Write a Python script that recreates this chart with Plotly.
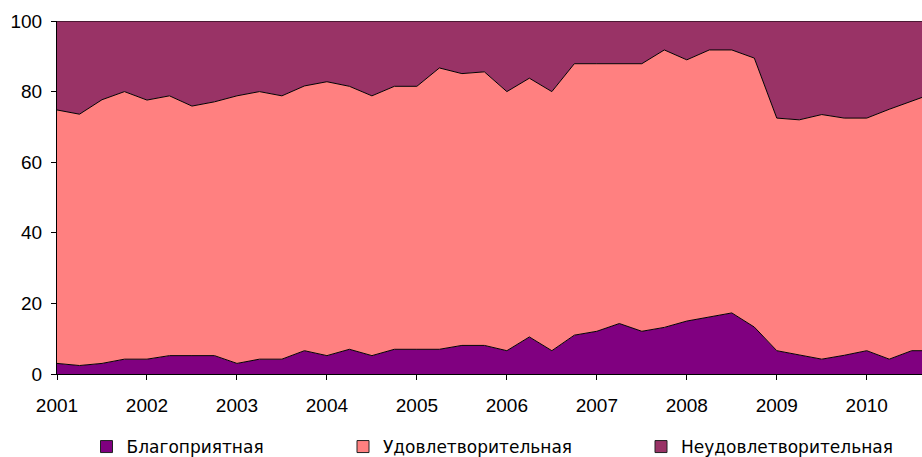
import plotly.graph_objects as go

quarters = [2001.00, 2001.25, 2001.50, 2001.75, 2002.00, 2002.25, 2002.50, 2002.75,
            2003.00, 2003.25, 2003.50, 2003.75, 2004.00, 2004.25, 2004.50, 2004.75,
            2005.00, 2005.25, 2005.50, 2005.75, 2006.00, 2006.25, 2006.50, 2006.75,
            2007.00, 2007.25, 2007.50, 2007.75, 2008.00, 2008.25, 2008.50, 2008.75,
            2009.00, 2009.25, 2009.50, 2009.75, 2010.00, 2010.25, 2010.50, 2010.75]

favorable = [3.0, 2.4, 3.0, 4.2, 4.2, 5.2, 5.2, 5.2, 3.0, 4.2, 4.2, 6.6, 5.2, 7.0, 5.2, 7.0,
             7.0, 7.0, 8.1, 8.1, 6.6, 10.5, 6.6, 11.0, 12.1, 14.3, 12.1, 13.2, 15.0, 16.2,
             17.3, 13.3, 6.6, 5.4, 4.2, 5.3, 6.6, 4.2, 6.6, 6.6]

satisfactory = [71.8, 71.2, 74.7, 75.8, 73.4, 73.6, 70.7, 71.9, 75.8, 75.8, 74.6, 75.0, 77.6,
                74.5, 73.6, 74.5, 74.5, 79.7, 77.0, 77.5, 73.4, 73.3, 73.4, 76.9, 75.8, 73.6,
                75.8, 78.6, 74.0, 75.6, 74.5, 76.2, 65.9, 66.6, 69.3, 67.2, 65.9, 70.8, 70.6, 73.0]

unsatisfactory = [25.2, 26.4, 22.3, 20.0, 22.4, 21.2, 24.1, 22.9, 21.2, 20.0, 21.2, 18.4, 17.2,
                  18.5, 21.2, 18.5, 18.5, 13.3, 14.9, 14.4, 20.0, 16.2, 20.0, 12.1, 12.1, 12.1,
                  12.1, 8.2, 11.0, 8.2, 8.2, 10.5, 27.5, 28.0, 26.5, 27.5, 27.5, 25.0, 22.8, 20.4]

names = ["Благоприятная", "Удовлетворительная", "Неудовлетворительная"]
colors = ["#800080", "#FF8080", "#993366"]
year_ticks = [2001, 2002, 2003, 2004, 2005, 2006, 2007, 2008, 2009, 2010]
y_ticks = [0, 20, 40, 60, 80, 100]

series = [favorable, satisfactory, unsatisfactory]
legend_ids = ["legend", "legend2", "legend3"]

fig = go.Figure()
for vals, nm, col in zip(series, names, colors):
    fig.add_trace(go.Scatter(
        x=quarters, y=vals, name=nm, stackgroup="one", mode="lines",
        line=dict(color="black", width=1), fillcolor=col, showlegend=False,
        hoverinfo="x+y+name"))

# legend-only entries with square swatches
for nm, col, lg in zip(names, colors, legend_ids):
    fig.add_trace(go.Scatter(
        x=[None], y=[None], name=nm, mode="markers",
        marker=dict(symbol="square", size=12, color=col, line=dict(color="#222222", width=1)),
        showlegend=True, legend=lg))

tick_font = dict(family="Liberation Sans, Arial, sans-serif", size=19, color="black")
leg_font = dict(family="DejaVu Sans, sans-serif", size=17, color="black")

W, H = 922, 457
L, R, T, B = 57, 0, 21, 83
pw = W - L - R
ph = H - T - B

def px_to_paper_x(page_px):
    return (page_px - L) / pw

leg_y = (374 - 447) / ph

fig.update_layout(
    width=W, height=H,
    margin=dict(l=L, r=R, t=T, b=B, autoexpand=False),
    paper_bgcolor="white", plot_bgcolor="white",
    xaxis=dict(range=[2001, 2010.614], tickvals=year_ticks, tickformat="d",
               ticks="outside", ticklen=5, tickcolor="black", showgrid=False,
               showline=True, linecolor="black", linewidth=1, zeroline=False,
               tickfont=tick_font, ticklabelstandoff=9, automargin=False),
    yaxis=dict(range=[0, 100], tickvals=y_ticks, ticks="outside", ticklen=5,
               tickcolor="black", showgrid=False, showline=True, linecolor="black",
               linewidth=1, zeroline=False, tickfont=tick_font, ticklabelstandoff=5,
               automargin=False),
    legend=dict(x=px_to_paper_x(86.5), y=leg_y, xanchor="left", yanchor="middle",
                orientation="h", font=leg_font, bgcolor="rgba(0,0,0,0)"),
    legend2=dict(x=px_to_paper_x(343), y=leg_y, xanchor="left", yanchor="middle",
                 orientation="h", font=leg_font, bgcolor="rgba(0,0,0,0)"),
    legend3=dict(x=px_to_paper_x(641), y=leg_y, xanchor="left", yanchor="middle",
                 orientation="h", font=leg_font, bgcolor="rgba(0,0,0,0)"),
    showlegend=True,
)

fig.write_html("out.html", config={"displayModeBar": False},
               post_script="document.body.style.margin='0';document.body.style.overflow='hidden';")
